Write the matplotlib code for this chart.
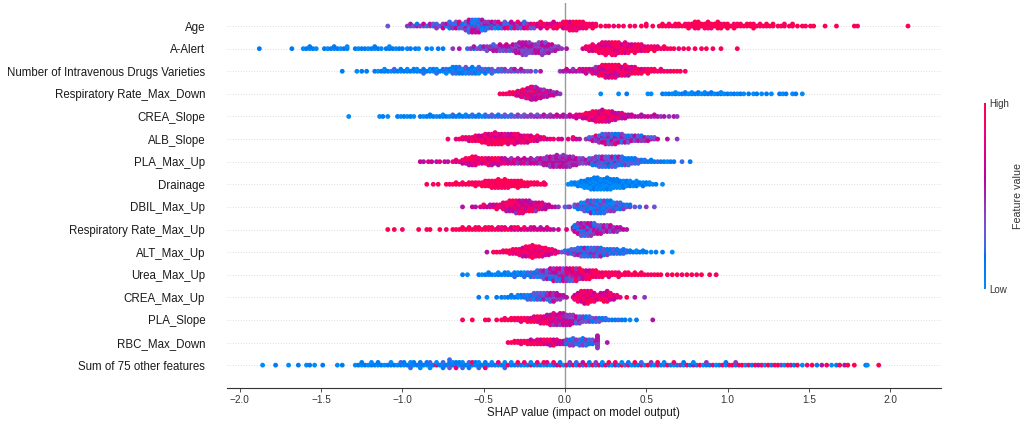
"""
plot.py - SHAP beeswarm summary of the top features (values read off the figure).
"""

import numpy as np
import matplotlib
matplotlib.use("Agg")
import matplotlib.pyplot as plt
from matplotlib.colors import LinearSegmentedColormap
from matplotlib.cm import ScalarMappable

plt.rcParams['font.family'] = ['Liberation Sans', 'DejaVu Sans']

# ---- data: (SHAP value x100, feature values of points there as digits 0..9) ----
feature_names = [
    "Age", "A-Alert", "Number of Intravenous Drugs Varieties",
    "Respiratory Rate_Max_Down", "CREA_Slope", "ALB_Slope", "PLA_Max_Up",
    "Drainage", "DBIL_Max_Up", "Respiratory Rate_Max_Up", "ALT_Max_Up",
    "Urea_Max_Up", "CREA_Max_Up", "PLA_Slope", "RBC_Max_Down",
    "Sum of 75 other features",
]

age = [(-109, "3"), (-97, "4"), (-95, "25"), (-93, "3"), (-91, "51"), (-89, "4"), (-87, "36"),
       (-85, "2"), (-83, "45"), (-81, "13"), (-79, "524"), (-77, "3"), (-75, "146"), (-73, "05"),
       (-71, "3412"), (-69, "524"), (-67, "1063"), (-65, "3527"), (-63, "413"), (-61, "20534"),
       (-59, "1435062"), (-57, "3140526"), (-55, "4213605"), (-53, "5031426"), (-51, "241305"),
       (-49, "36142"), (-47, "0524"), (-45, "3146"), (-43, "2504"), (-41, "4317"), (-39, "152"),
       (-37, "4063"), (-35, "528"), (-33, "3416"), (-31, "257"), (-29, "6348"), (-27, "452"),
       (-25, "7362"), (-23, "548"), (-21, "673"), (-19, "583"), (-17, "76"), (-15, "8769"),
       (-13, "78"), (-11, "968"), (-9, "87"), (-7, "9786"), (-5, "879"), (-3, "98"), (-1, "7968"),
       (1, "8979"), (3, "98768"), (5, "97898"), (7, "89798"), (9, "8979"), (11, "9878"),
       (13, "798"), (15, "98"), (17, "879"), (19, "98"), (22, "9"), (25, "8"), (27, "9"), (30, "7"),
       (33, "9"), (36, "8"), (40, "9"), (43, "8"), (47, "9"), (50, "98"), (54, "9"), (58, "9"),
       (60, "89"), (62, "9"), (64, "98"), (66, "8"), (68, "99"), (70, "89"), (72, "9"), (74, "98"),
       (76, "989"), (78, "89"), (80, "9899"), (82, "8989"), (84, "99"), (86, "989"), (88, "9989"),
       (90, "898"), (92, "99"), (94, "8999"), (96, "989"), (98, "98"), (100, "899"), (102, "9"),
       (104, "989"), (106, "98"), (108, "99"), (110, "9"), (112, "89"), (114, "99"), (116, "989"),
       (118, "9"), (120, "98"), (122, "9"), (124, "89"), (126, "9"), (128, "99"), (131, "8"),
       (133, "9"), (135, "98"), (138, "9"), (140, "89"), (143, "9"), (146, "9"), (148, "8"),
       (151, "9"), (153, "9"), (160, "9"), (167, "9"), (178, "9"), (180, "8"), (211, "9")]

a_alert = [(-188, "1"), (-168, "1"), (-161, "0"), (-159, "1"), (-157, "01"), (-155, "1"), (-153, "0"),
           (-148, "1"), (-146, "0"), (-144, "1"), (-142, "01"), (-140, "1"), (-138, "0"), (-136, "1"),
           (-134, "10"), (-129, "1"), (-127, "0"), (-125, "1"), (-123, "1"), (-121, "0"), (-119, "1"),
           (-117, "01"), (-115, "1"), (-113, "0"), (-110, "1"), (-108, "10"), (-106, "1"), (-104, "0"),
           (-102, "1"), (-100, "1"), (-97, "0"), (-95, "1"), (-92, "1"), (-90, "0"), (-85, "1"),
           (-82, "0"), (-78, "1"), (-75, "1"), (-69, "4"), (-65, "5"), (-60, "2"), (-58, "4"),
           (-56, "15"), (-54, "3"), (-52, "42"), (-50, "35"), (-48, "143"), (-46, "54"), (-44, "3452"),
           (-42, "435"), (-40, "5436"), (-38, "453"), (-36, "3546"), (-34, "452"), (-32, "5346"),
           (-30, "43545"), (-28, "354365"), (-26, "4536354"), (-24, "5436453"), (-22, "354634"),
           (-20, "45354"), (-18, "53645"), (-16, "435463"), (-14, "5436354"), (-12, "354643"),
           (-10, "45365"), (-8, "5346"), (-6, "435"), (-4, "54"), (-2, "4"), (1, "5"),
           (11, "6"), (13, "78"), (15, "687"), (17, "7968"), (19, "879"), (21, "69878"),
           (23, "789687"), (25, "8796978"), (27, "978687"), (29, "8697898"), (31, "7968798"),
           (33, "986978"), (35, "78969"), (37, "897867"), (39, "96878"), (41, "7896"), (43, "68978"),
           (45, "7989"), (47, "8967"), (49, "978"), (51, "879"), (53, "98"), (55, "789"), (57, "97"),
           (59, "8"), (61, "79"), (63, "9"), (65, "8"), (67, "9"), (70, "7"), (73, "9"), (76, "8"),
           (80, "9"), (84, "8"), (87, "9"), (91, "8"), (96, "9"), (106, "9")]

iv_drugs = [(-137, "1"), (-128, "0"), (-125, "1"), (-122, "1"), (-117, "1"), (-115, "0"), (-113, "1"),
            (-111, "10"), (-109, "1"), (-107, "0"), (-105, "12"), (-103, "1"), (-101, "01"), (-99, "1"),
            (-97, "10"), (-95, "1"), (-93, "01"), (-91, "10"), (-89, "1"), (-87, "012"), (-85, "1"),
            (-83, "10"), (-81, "01"), (-79, "102"), (-77, "1"), (-75, "01"), (-73, "120"), (-71, "01"),
            (-69, "1021"), (-67, "0121"), (-65, "1012"), (-63, "201"), (-61, "1203"), (-59, "012"),
            (-57, "1021"), (-55, "201"), (-53, "1302"), (-51, "12"), (-49, "031"), (-47, "21"),
            (-45, "132"), (-43, "2"), (-41, "13"), (-39, "32"), (-37, "24"), (-35, "3"), (-33, "43"),
            (-31, "25"), (-29, "4"), (-27, "35"), (-25, "4"), (-23, "3"), (-21, "4"), (-18, "2"),
            (-15, "5"), (-3, "4"), (-1, "5"), (1, "46"), (3, "5"), (5, "64"), (7, "5"), (9, "47"),
            (11, "65"), (13, "576"), (15, "46"), (17, "758"), (19, "6754"), (21, "86579"),
            (23, "758698"), (25, "9687597"), (27, "6897586"), (29, "5978698"), (31, "8769587"),
            (33, "697859"), (35, "87968"), (37, "798679"), (39, "86975"), (41, "9786"), (43, "6897"),
            (45, "798"), (47, "869"), (49, "97"), (51, "789"), (53, "98"), (55, "79"), (57, "8"),
            (59, "97"), (61, "8"), (63, "9"), (65, "7"), (67, "9"), (69, "8"), (71, "9"), (74, "8")]

resp_max_down = [(-40, "8"), (-38, "9"), (-36, "8"), (-34, "98"), (-32, "79"), (-30, "897"),
                 (-29, "9867"), (-27, "78956"), (-26, "968579"), (-24, "5879684"), (-23, "86957486"),
                 (-21, "7958648579"), (-20, "6859746857"), (-18, "5869475864"), (-17, "46857965"),
                 (-15, "5746856"), (-13, "645754"), (-11, "56475"), (-9, "4565"), (-7, "546"),
                 (-5, "45"), (-3, "4"), (22, "0"), (33, "0"), (38, "1"), (51, "0"), (53, "0"),
                 (60, "1"), (62, "0"), (64, "1"), (66, "0"), (68, "10"), (70, "0"), (72, "1"),
                 (74, "01"), (76, "0"), (78, "10"), (80, "1"), (82, "01"), (84, "0"), (86, "10"),
                 (88, "1"), (90, "01"), (92, "0"), (94, "1"), (96, "10"), (98, "0"), (100, "1"),
                 (102, "0"), (104, "1"), (106, "0"), (108, "1"), (110, "0"), (113, "1"), (116, "0"),
                 (118, "1"), (121, "0"), (124, "1"), (127, "0"), (132, "1"), (134, "0"), (136, "1"),
                 (140, "0"), (142, "1"), (146, "0")]

crea_slope = [(-133, "0"), (-114, "0"), (-112, "1"), (-109, "0"), (-103, "1"), (-101, "0"), (-99, "1"),
              (-97, "0"), (-95, "1"), (-93, "0"), (-89, "1"), (-87, "0"), (-85, "1"), (-83, "01"),
              (-81, "1"), (-79, "0"), (-77, "1"), (-75, "10"), (-73, "1"), (-71, "0"), (-69, "12"),
              (-67, "1"), (-65, "01"), (-63, "1"), (-61, "20"), (-59, "1"), (-57, "02"), (-55, "1"),
              (-53, "21"), (-51, "0"), (-49, "12"), (-47, "2"), (-45, "13"), (-43, "2"), (-41, "31"),
              (-39, "2"), (-37, "13"), (-35, "2"), (-33, "32"), (-31, "3"), (-29, "24"), (-27, "3"),
              (-25, "43"), (-23, "4"), (-21, "34"), (-19, "4"), (-17, "53"), (-15, "4"), (-13, "45"),
              (-11, "4"), (-9, "54"), (-7, "5"), (-5, "46"), (-3, "5"), (-1, "65"), (1, "4"), (3, "56"),
              (5, "6"), (7, "576"), (9, "67"), (11, "786"), (13, "8769"), (15, "69878"), (17, "897968"),
              (19, "7968797"), (21, "9786958"), (23, "68979876"), (25, "8796897"), (27, "7968795"),
              (29, "698786"), (31, "87965"), (33, "7685"), (35, "6857"), (37, "576"), (39, "65"),
              (41, "56"), (43, "6"), (45, "5"), (47, "65"), (49, "5"), (51, "6"), (53, "5"), (55, "46"),
              (57, "5"), (59, "4"), (61, "5"), (64, "4"), (67, "5"), (69, "4")]

alb_slope = [(-72, "8"), (-67, "7"), (-65, "9"), (-63, "68"), (-61, "97"), (-59, "786"), (-57, "879"),
             (-55, "6978"), (-53, "8796"), (-51, "97869"), (-49, "786978"), (-47, "6987968"),
             (-45, "8796789"), (-43, "97868697"), (-41, "7986978"), (-39, "8697869"), (-37, "968798"),
             (-35, "7896857"), (-33, "869786"), (-31, "9786987"), (-29, "687968"), (-27, "79867"),
             (-25, "86978"), (-23, "69786"), (-21, "8796"), (-19, "697"), (-17, "7868"), (-15, "96"),
             (-13, "78"), (-11, "6"), (-9, "7"), (-7, "8"), (-4, "7"), (-2, "6"), (2, "7"), (5, "68"),
             (7, "6"), (9, "5"), (13, "4"), (15, "52"), (17, "436"), (19, "5247"), (21, "36524"),
             (23, "413562"), (25, "5241637"), (27, "3625143"), (29, "4153624"), (31, "2536417"),
             (33, "453261"), (35, "361524"), (37, "45236"), (39, "52413"), (41, "3462"), (43, "5136"),
             (45, "4253"), (47, "6341"), (49, "254"), (51, "436"), (53, "52"), (55, "43"), (57, "6"),
             (63, "5"), (69, "4")]

pla_max_up = [(-89, "6"), (-87, "5"), (-84, "7"), (-82, "6"), (-79, "5"), (-77, "7"), (-74, "6"),
              (-72, "5"), (-69, "8"), (-67, "67"), (-65, "7"), (-63, "586"), (-61, "7968"),
              (-59, "87695"), (-57, "697869"), (-55, "786978"), (-53, "9687"), (-51, "7869"),
              (-49, "6978"), (-47, "57968"), (-45, "86795"), (-43, "7869"), (-41, "69785"),
              (-39, "5876"), (-37, "6785"), (-35, "756"), (-33, "6574"), (-31, "576"), (-29, "6745"),
              (-27, "465"), (-25, "5476"), (-23, "654"), (-21, "4565"), (-19, "546"), (-17, "4654"),
              (-15, "5646"), (-13, "45645"), (-11, "546454"), (-9, "4565464"), (-7, "5464546"),
              (-5, "64554645"), (-3, "5465446"), (-1, "45645654"), (1, "5465445"), (3, "4546454"),
              (5, "544654"), (7, "45465"), (9, "5443"), (11, "4534"), (13, "354"), (15, "4352"),
              (17, "25341"), (19, "435214"), (21, "2531423"), (23, "1426352"), (25, "3512432"),
              (27, "2413521"), (29, "1324153"), (31, "4251312"), (33, "231425"), (35, "142312"),
              (37, "31214"), (39, "21312"), (41, "1231"), (43, "2121"), (45, "132"), (47, "21"),
              (49, "12"), (51, "1"), (53, "21"), (55, "1"), (57, "2"), (59, "1"), (61, "1"), (63, "0"),
              (65, "1"), (67, "1"), (72, "2"), (77, "1")]

drainage = [(-85, "9"), (-81, "8"), (-78, "9"), (-73, "9"), (-71, "8"), (-69, "9"), (-67, "89"),
            (-65, "9"), (-63, "98"), (-61, "9"), (-59, "89"), (-57, "98"), (-55, "899"), (-53, "98"),
            (-51, "989"), (-49, "8999"), (-47, "9898"), (-45, "99898"), (-43, "98989"),
            (-41, "899989"), (-39, "98998"), (-37, "989899"), (-35, "99898"), (-33, "8999"),
            (-31, "9898"), (-29, "98999"), (-27, "8989"), (-25, "999"), (-23, "898"), (-21, "99"),
            (-19, "98"), (-17, "89"), (-15, "9"), (-13, "98"), (-12, "8"), (2, "0"), (4, "10"),
            (6, "01"), (8, "101"), (10, "0101"), (12, "10010"), (14, "010101"), (16, "1010010"),
            (18, "01001011"), (20, "10100101"), (22, "0101100"), (24, "1001010"), (26, "01010011"),
            (28, "1010010"), (30, "010101"), (32, "100101"), (34, "01010"), (36, "10101"),
            (38, "0101"), (40, "1010"), (42, "010"), (44, "1010"), (46, "01"), (48, "101"), (50, "01"),
            (52, "10"), (54, "0"), (56, "1"), (60, "0")]

dbil_max_up = [(-63, "5"), (-57, "6"), (-55, "5"), (-52, "7"), (-50, "58"), (-48, "6"), (-46, "75"),
               (-44, "86"), (-42, "579"), (-40, "68"), (-38, "8597"), (-36, "69785"), (-34, "786958"),
               (-32, "597869"), (-30, "8697584"), (-28, "6859768"), (-26, "7586957"), (-24, "965876"),
               (-22, "587695"), (-20, "76859"), (-18, "68574"), (-16, "5796"), (-14, "6857"),
               (-12, "756"), (-10, "56"), (-8, "6"), (-6, "5"), (-4, "4"), (0, "3"), (2, "2"), (3, "4"),
               (6, "13"), (8, "241"), (10, "3120"), (12, "14203"), (14, "021314"), (16, "3104215"),
               (18, "1402130"), (20, "2130412"), (22, "0314201"), (24, "1203142"), (26, "401231"),
               (28, "213041"), (30, "32104"), (32, "1423"), (34, "0312"), (36, "214"), (38, "32"),
               (40, "41"), (43, "3"), (46, "2"), (50, "4"), (55, "3")]

resp_max_up = [(-109, "9"), (-105, "9"), (-100, "8"), (-90, "9"), (-85, "8"), (-83, "9"), (-77, "9"),
               (-73, "8"), (-69, "9"), (-67, "8"), (-65, "9"), (-63, "89"), (-61, "9"), (-59, "98"),
               (-57, "9"), (-55, "89"), (-53, "98"), (-51, "9"), (-49, "89"), (-47, "98"), (-45, "79"),
               (-43, "8"), (-41, "97"), (-39, "68"), (-37, "87"), (-35, "9"), (-33, "76"), (-31, "68"),
               (-29, "79"), (-27, "6"), (-25, "78"), (-23, "6"), (-21, "57"), (-19, "86"), (-17, "6"),
               (-15, "75"), (-13, "6"), (-11, "57"), (-9, "6"), (-7, "5"), (-4, "6"), (1, "7"),
               (5, "35"), (6, "4261"), (8, "513264"), (10, "3624153"), (12, "2516342"),
               (14, "4351263"), (16, "1436254"), (18, "356142"), (20, "24536"), (22, "51436"),
               (24, "3645"), (26, "5463"), (28, "4536"), (30, "645"), (32, "564"), (34, "45"),
               (36, "6"), (38, "5")]

alt_max_up = [(-48, "5"), (-44, "8"), (-42, "9"), (-40, "8"), (-38, "97"), (-36, "89"), (-34, "798"),
              (-32, "9878"), (-30, "8979"), (-28, "98789"), (-26, "7989865"), (-24, "89798968"),
              (-22, "97869879"), (-20, "8979689798"), (-18, "79868979"), (-16, "98976898"),
              (-14, "8795987"), (-12, "978968"), (-10, "89786"), (-8, "7968"), (-6, "868"), (-4, "7"),
              (-2, "3"), (0, "42"), (2, "314"), (4, "2413"), (6, "13524"), (8, "421352"),
              (10, "3142513"), (12, "2413152"), (14, "1523412"), (16, "3241531"), (18, "4132524"),
              (20, "2513142"), (22, "3142315"), (24, "14231"), (26, "21314"), (28, "3121"),
              (30, "1213"), (32, "2131"), (34, "121"), (36, "0121"), (38, "12"), (40, "21"), (42, "1"),
              (44, "10"), (46, "1"), (48, "01"), (50, "1"), (53, "0"), (56, "1"), (60, "1"), (66, "0")]

urea_max_up = [(-63, "1"), (-60, "0"), (-53, "1"), (-51, "0"), (-49, "1"), (-47, "01"), (-45, "1"),
               (-43, "0"), (-41, "10"), (-39, "1"), (-37, "01"), (-35, "10"), (-33, "1"), (-31, "012"),
               (-29, "10"), (-27, "21"), (-25, "102"), (-23, "12"), (-21, "031"), (-19, "213"),
               (-17, "1402"), (-15, "3124"), (-13, "24153"), (-11, "41325"), (-9, "352416"),
               (-7, "2536147"), (-5, "4615372"), (-3, "5374162"), (-1, "6482537"), (1, "3758164"),
               (3, "5847362"), (5, "7586493"), (7, "6857948"), (9, "865749"), (11, "78596"),
               (13, "89768"), (15, "97869"), (17, "8798"), (19, "9879"), (21, "898"), (23, "979"),
               (25, "89"), (27, "987"), (29, "89"), (31, "98"), (33, "879"), (35, "9"), (37, "89"),
               (39, "98"), (41, "9"), (43, "89"), (45, "9"), (47, "98"), (49, "9"), (51, "8"), (53, "9"),
               (55, "8"), (57, "9"), (59, "9"), (63, "8"), (66, "9"), (69, "9"), (72, "8"), (75, "9"),
               (78, "9"), (81, "8"), (84, "9"), (89, "9"), (93, "8")]

crea_max_up = [(-53, "1"), (-48, "0"), (-42, "1"), (-39, "1"), (-37, "0"), (-35, "1"), (-33, "01"),
               (-31, "1"), (-29, "10"), (-27, "01"), (-25, "12"), (-23, "102"), (-21, "213"),
               (-19, "1203"), (-17, "3142"), (-15, "2413"), (-13, "4352"), (-11, "3524"),
               (-9, "45362"), (-7, "54346"), (-5, "3645"), (-3, "564"), (-1, "45"), (1, "5"), (5, "7"),
               (6, "968"), (8, "79868"), (10, "897969"), (12, "9687986"), (14, "7968978"),
               (16, "869798"), (18, "97868"), (20, "786"), (22, "8796"), (24, "97869"), (26, "869786"),
               (28, "7968"), (30, "876"), (32, "68"), (34, "7"), (38, "9"), (43, "5"), (49, "4")]

pla_slope = [(-63, "8"), (-57, "9"), (-49, "9"), (-47, "8"), (-42, "9"), (-39, "8"), (-37, "98"),
             (-35, "9"), (-33, "89"), (-31, "98"), (-29, "79"), (-27, "897"), (-25, "98"), (-23, "789"),
             (-21, "968"), (-19, "8797"), (-17, "6978"), (-15, "79687"), (-13, "86978"),
             (-11, "768795"), (-9, "6978657"), (-7, "57686947"), (-5, "6574865"), (-3, "46575846"),
             (-1, "54657465"), (1, "4564745"), (3, "5463546"), (5, "645364"), (7, "35462"),
             (9, "43524"), (11, "2534"), (13, "4231"), (15, "3142"), (17, "231"), (19, "142"),
             (21, "213"), (23, "31"), (25, "12"), (27, "2"), (29, "1"), (31, "1"), (33, "2"), (35, "1"),
             (37, "1"), (40, "0"), (44, "1"), (54, "5")]

rbc_max_down = [(-35, "8"), (-33, "9"), (-31, "89"), (-29, "98"), (-27, "897"), (-25, "98"), (-23, "789"),
                (-21, "9786"), (-19, "879"), (-17, "6987"), (-15, "7896"), (-13, "8679"), (-11, "7968"),
                (-9, "68795"), (-7, "57869"), (-5, "6857"), (-3, "576"), (-1, "465"), (1, "3214"),
                (3, "12314"), (5, "213142"), (7, "3124"), (9, "12132"), (11, "213141"), (13, "31242"),
                (15, "1312"), (17, "2413"), (19, "35"), (20, "4545454545"), (26, "5")]

other_75 = [(-186, "0"), (-178, "1"), (-170, "0"), (-164, "1"), (-159, "0"), (-157, "1"), (-154, "0"),
            (-149, "1"), (-140, "0"), (-137, "1"), (-129, "0"), (-127, "1"), (-125, "01"), (-123, "1"),
            (-121, "0"), (-119, "10"), (-117, "1"), (-115, "01"), (-113, "1"), (-111, "0"), (-109, "1"),
            (-107, "10"), (-105, "1"), (-103, "0"), (-101, "12"), (-99, "01"), (-97, "1"), (-95, "102"),
            (-93, "01"), (-91, "1"), (-89, "210"), (-87, "1"), (-85, "01"), (-83, "120"), (-81, "1"),
            (-79, "80"), (-77, "1"), (-75, "021"), (-73, "1"), (-71, "0132"), (-69, "10"), (-67, "217"),
            (-65, "01"), (-63, "102"), (-61, "1"), (-59, "021"), (-57, "18"), (-55, "01"), (-53, "102"),
            (-51, "1"), (-49, "018"), (-47, "1"), (-45, "20"), (-43, "1"), (-41, "07"), (-39, "1"),
            (-37, "102"), (-35, "8"), (-33, "10"), (-31, "1"), (-29, "29"), (-27, "1"), (-25, "08"),
            (-23, "1"), (-21, "90"), (-19, "1"), (-17, "28"), (-15, "1"), (-13, "09"), (-11, "17"),
            (-9, "0"), (-7, "18"), (-5, "5"), (-3, "91"), (-1, "0"), (1, "8"), (3, "14"), (5, "9"),
            (7, "02"), (9, "7"), (11, "15"), (13, "8"), (15, "01"), (17, "9"), (19, "24"), (21, "8"),
            (23, "10"), (25, "7"), (27, "19"), (29, "0"), (31, "58"), (33, "1"), (35, "90"), (37, "2"),
            (39, "81"), (41, "0"), (43, "19"), (45, "1"), (47, "82"), (49, "0"), (51, "9"), (53, "14"),
            (55, "0"), (57, "89"), (59, "1"), (61, "20"), (63, "9"), (65, "1"), (67, "08"), (69, "1"),
            (71, "4"), (73, "01"), (75, "8"), (77, "1"), (79, "50"), (81, "1"), (83, "9"), (85, "0"),
            (87, "14"), (89, "1"), (91, "8"), (93, "0"), (95, "1"), (97, "9"), (99, "01"), (101, "8"),
            (103, "9"), (105, "14"), (107, "8"), (109, "9"), (111, "0"), (113, "8"), (115, "1"),
            (117, "9"), (119, "5"), (121, "8"), (123, "0"), (125, "9"), (127, "1"), (129, "8"),
            (131, "9"), (133, "4"), (135, "0"), (137, "9"), (139, "8"), (141, "1"), (143, "9"),
            (146, "0"), (149, "8"), (152, "9"), (155, "1"), (158, "5"), (161, "8"), (164, "0"),
            (167, "1"), (169, "9"), (172, "5"), (174, "9"), (178, "9"), (185, "1"), (186, "0"),
            (193, "9")]

rows = [age, a_alert, iv_drugs, resp_max_down, crea_slope, alb_slope, pla_max_up, drainage,
        dbil_max_up, resp_max_up, alt_max_up, urea_max_up, crea_max_up, pla_slope, rbc_max_down,
        other_75]

xticks = [-2.0, -1.5, -1.0, -0.5, 0.0, 0.5, 1.0, 1.5, 2.0]


def lch_to_rgb(l, c, h):
    """CIE LCh (radians) -> sRGB, D65."""
    a, b = c * np.cos(h), c * np.sin(h)
    fy = (l + 16) / 116
    fx, fz = fy + a / 500, fy - b / 200

    def finv(t):
        return t ** 3 if t > 6 / 29 else 3 * (6 / 29) ** 2 * (t - 4 / 29)
    X, Y, Z = 0.95047 * finv(fx), finv(fy), 1.08883 * finv(fz)
    lin = [3.2406 * X - 1.5372 * Y - 0.4986 * Z,
           -0.9689 * X + 1.8758 * Y + 0.0415 * Z,
           0.0557 * X - 0.2040 * Y + 1.0570 * Z]
    out = []
    for v in lin:
        v = 12.92 * v if v <= 0.0031308 else 1.055 * max(v, 0) ** (1 / 2.4) - 0.055
        out.append(min(max(v, 0), 1))
    return out


def shap_red_blue():
    """Rebuild the red_blue colormap used by shap plots."""
    n = 100
    ls = list(np.linspace(54., 40., n // 2)) + list(np.linspace(40., 54., n // 2))
    cs = np.linspace(70., 90., n)
    hs = np.linspace(4.6588, 0.35470565 + 2 * np.pi, n)
    cols = [lch_to_rgb(l, c, h) for l, c, h in zip(ls, cs, hs)]
    return LinearSegmentedColormap.from_list("red_blue", cols)


def swarm_row(row, row_height=0.4):
    """Expand one row into points; points sharing a value are stacked
    alternately above/below the row like shap's beeswarm."""
    xs, ys, cs = [], [], []
    for v, codes in row:
        for layer, ch in enumerate(codes):
            xs.append(v / 100.0)
            ys.append(np.ceil(layer / 2) * ((layer % 2) * 2 - 1))
            cs.append(int(ch) / 9.0)
    ys = np.array(ys)
    ys *= 0.9 * (row_height / np.max(ys + 1))
    return np.array(xs), ys, np.array(cs)


def main():
    cmap = shap_red_blue()
    axis_color = "#333333"

    fig = plt.figure(figsize=(10.21, 4.21), dpi=100)
    ax = fig.add_axes([0.222, 0.079, 0.6993, 0.9128])

    n = len(feature_names)
    positions = [n - 1 - i for i in range(n)]
    for pos in positions:
        ax.axhline(y=pos, color="#d4d4d4", lw=0.6, dashes=(1, 2.2), zorder=-1)
    ax.axvline(x=0, color="#999999", lw=1.0, zorder=-1)

    for pos, row in zip(positions, rows):
        shaps, ys, cvals = swarm_row(row)
        ax.scatter(shaps, pos + ys, c=cvals, cmap=cmap, vmin=0, vmax=1, s=12,
                   linewidth=0, zorder=3)

    ax.set_xlim(-2.081, 2.311)
    ax.set_ylim(-1, n)
    ax.set_yticks(positions)
    ax.set_yticklabels(feature_names, fontsize=8.3, color="#1a1a1a")
    ax.tick_params('y', length=0, pad=15.5)
    ax.set_xticks(xticks)
    ax.tick_params('x', labelsize=7.2, color=axis_color, labelcolor=axis_color,
                   length=3, width=0.6, pad=2)
    ax.set_xlabel("SHAP value (impact on model output)", fontsize=8.3, color="#1a1a1a", labelpad=2)
    for side in ("top", "right", "left"):
        ax.spines[side].set_visible(False)
    ax.spines["bottom"].set_color(axis_color)
    ax.spines["bottom"].set_linewidth(0.8)

    # colour bar
    cax = fig.add_axes([984 / 1021, 132 / 421, 2.2 / 1021, 186 / 421])
    sm = ScalarMappable(cmap=cmap)
    sm.set_clim(0, 1)
    cb = fig.colorbar(sm, cax=cax, ticks=[0, 1])
    cb.set_ticklabels(["Low", "High"])
    cb.ax.tick_params(labelsize=7, length=0, pad=2, labelcolor=axis_color)
    cb.set_label("Feature value", size=7.7, labelpad=3, color=axis_color)
    cb.outline.set_visible(False)

    fig.savefig("out.png", dpi=100)
    plt.close(fig)


if __name__ == "__main__":
    main()
